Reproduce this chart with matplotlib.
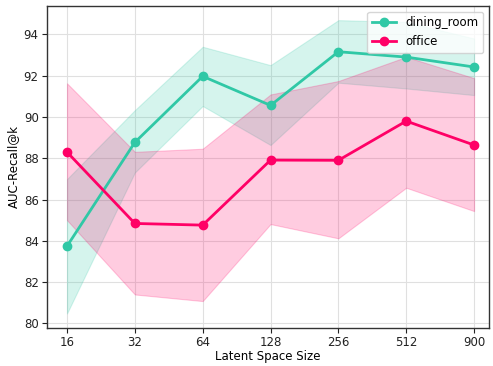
import matplotlib
matplotlib.use("Agg")
import matplotlib.pyplot as plt
import numpy as np

sizes = ["16", "32", "64", "128", "256", "512", "900"]
dining_mean = [83.74, 88.77, 91.97, 90.56, 93.16, 92.90, 92.42]
dining_low = [80.48, 87.31, 90.53, 88.64, 91.66, 91.38, 91.06]
dining_high = [86.99, 90.33, 93.40, 92.51, 94.69, 94.60, 93.80]
office_mean = [88.30, 84.84, 84.76, 87.91, 87.90, 89.80, 88.64]
office_low = [85.00, 81.40, 81.08, 84.81, 84.12, 86.57, 85.44]
office_high = [91.63, 88.31, 88.46, 91.09, 91.74, 92.91, 91.88]

teal = "#30c8a6"
pink = "#ff0066"

fig = plt.figure(figsize=(4.93, 3.66), dpi=100)
ax = fig.add_axes([47/493, 1 - 327.7/366, (489 - 47)/493, (327.7 - 5.7)/366])
x = np.arange(len(sizes))

ax.fill_between(x, dining_low, dining_high, color=teal, alpha=0.2, linewidth=0.8)
ax.plot(x, dining_mean, color=teal, marker="o", markersize=6, linewidth=2, label="dining_room")
ax.fill_between(x, office_low, office_high, facecolor=pink, alpha=0.2,
                edgecolor=pink, linewidth=0.8)
ax.plot(x, office_mean, color=pink, marker="o", markersize=6, linewidth=2, label="office")

ax.set_xticks(x)
ax.set_xticklabels(sizes)
ax.set_xlim(-0.295, 6.22)
ax.set_ylim(79.79, 95.39)
ax.set_yticks([80, 82, 84, 86, 88, 90, 92, 94])
ax.grid(True, color="#e0e0e0", linewidth=0.8)
ax.set_axisbelow(True)
for s in ax.spines.values():
    s.set_color("#333333")
    s.set_linewidth(1.0)
ax.tick_params(labelsize=8.5, colors="#222222", length=3.5, pad=2.5)
ax.set_xlabel("Latent Space Size", fontsize=8.5, labelpad=1)
ax.set_ylabel("AUC-Recall@k", fontsize=8.5, labelpad=3)
ax.legend(loc="upper right", fontsize=8.5, framealpha=0.8)
fig.savefig("out.png", dpi=100)
